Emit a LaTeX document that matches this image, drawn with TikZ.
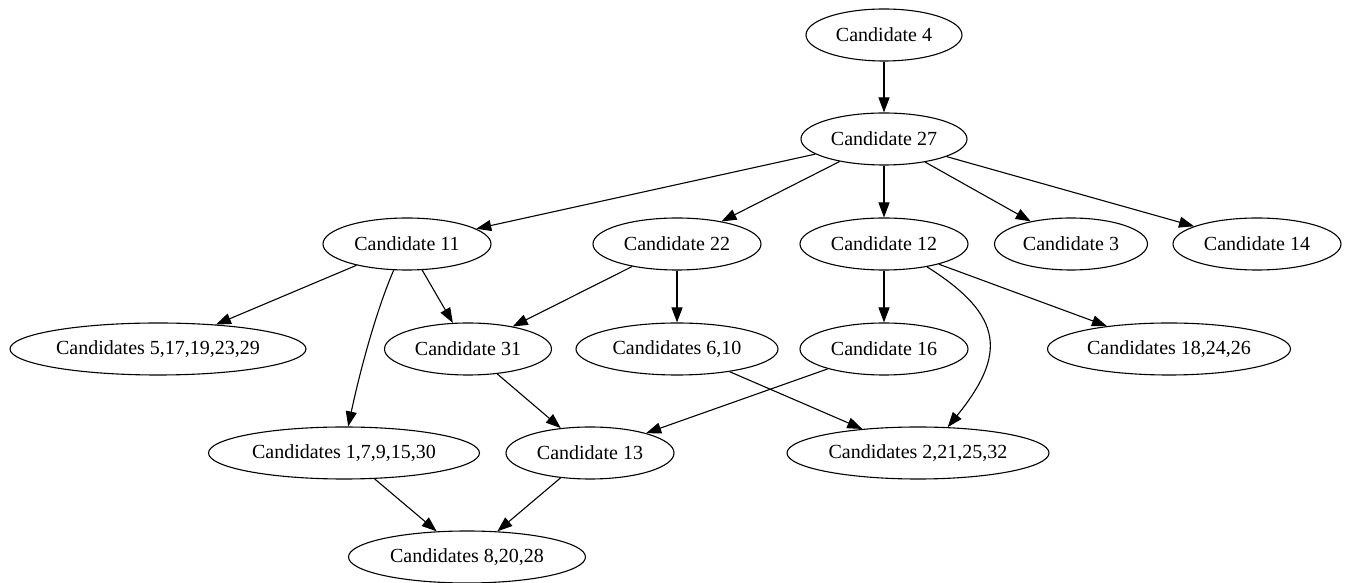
\documentclass[tikz,border=0pt]{standalone}
\usepackage{fontspec}
\setmainfont{Liberation Serif}
\usetikzlibrary{shapes.geometric,arrows.meta}
\tikzset{
  cand/.style={ellipse, draw, line width=1.1pt, minimum height=52pt, inner sep=0pt, font=\fontsize{20}{24}\selectfont},
  arr/.style={line width=1.1pt, -{Triangle[length=15pt,width=11pt]}}
}
\begin{document}
\begin{tikzpicture}[x=1pt,y=1pt]
\useasboundingbox (0,0) rectangle (1346,583);
\node[cand, minimum width=156pt] (c4)  at (884,548) {Candidate 4};
\node[cand, minimum width=166pt] (c27) at (884,444) {Candidate 27};
\node[cand, minimum width=168pt] (c11) at (407,339) {Candidate 11};
\node[cand, minimum width=168pt] (c22) at (677,339) {Candidate 22};
\node[cand, minimum width=168pt] (c12) at (884,339) {Candidate 12};
\node[cand, minimum width=153pt] (c3)  at (1071,339) {Candidate 3};
\node[cand, minimum width=168pt] (c14) at (1257,339) {Candidate 14};
\node[cand, minimum width=296pt] (c5)  at (158,234) {Candidates 5,17,19,23,29};
\node[cand, minimum width=167pt] (c31) at (468,234) {Candidate 31};
\node[cand, minimum width=202pt] (c6)  at (677,234) {Candidates 6,10};
\node[cand, minimum width=168pt] (c16) at (884,234) {Candidate 16};
\node[cand, minimum width=243pt] (c18) at (1169,234) {Candidates 18,24,26};
\node[cand, minimum width=271pt] (c1)  at (344,130) {Candidates 1,7,9,15,30};
\node[cand, minimum width=168pt] (c13) at (590,130) {Candidate 13};
\node[cand, minimum width=262pt] (c2)  at (918,130) {Candidates 2,21,25,32};
\node[cand, minimum width=237pt] (c8)  at (467,26) {Candidates 8,20,28};

\draw[arr] (c4) -- (c27);
\draw[arr] (c27) -- (c11);
\draw[arr] (c27) -- (c22);
\draw[arr] (c27) -- (c12);
\draw[arr] (c27) -- (c3);
\draw[arr] (c27) -- (c14);
\draw[arr] (c11) -- (c5);
\draw[arr] (c11) -- (c31);
\draw[arr] (c11.-117) .. controls (374,267) and (358,203) .. (c1.81);
\draw[arr] (c22) -- (c31);
\draw[arr] (c22) -- (c6);
\draw[arr] (c12) -- (c16);
\draw[arr] (c12.-28) .. controls (1005,267) and (1006,228) .. (c2.41);
\draw[arr] (c12) -- (c18);
\draw[arr] (c31) -- (c13);
\draw[arr] (c16) -- (c13);
\draw[arr] (c6) -- (c2);
\draw[arr] (c1) -- (c8);
\draw[arr] (c13) -- (c8);
\end{tikzpicture}
\end{document}
